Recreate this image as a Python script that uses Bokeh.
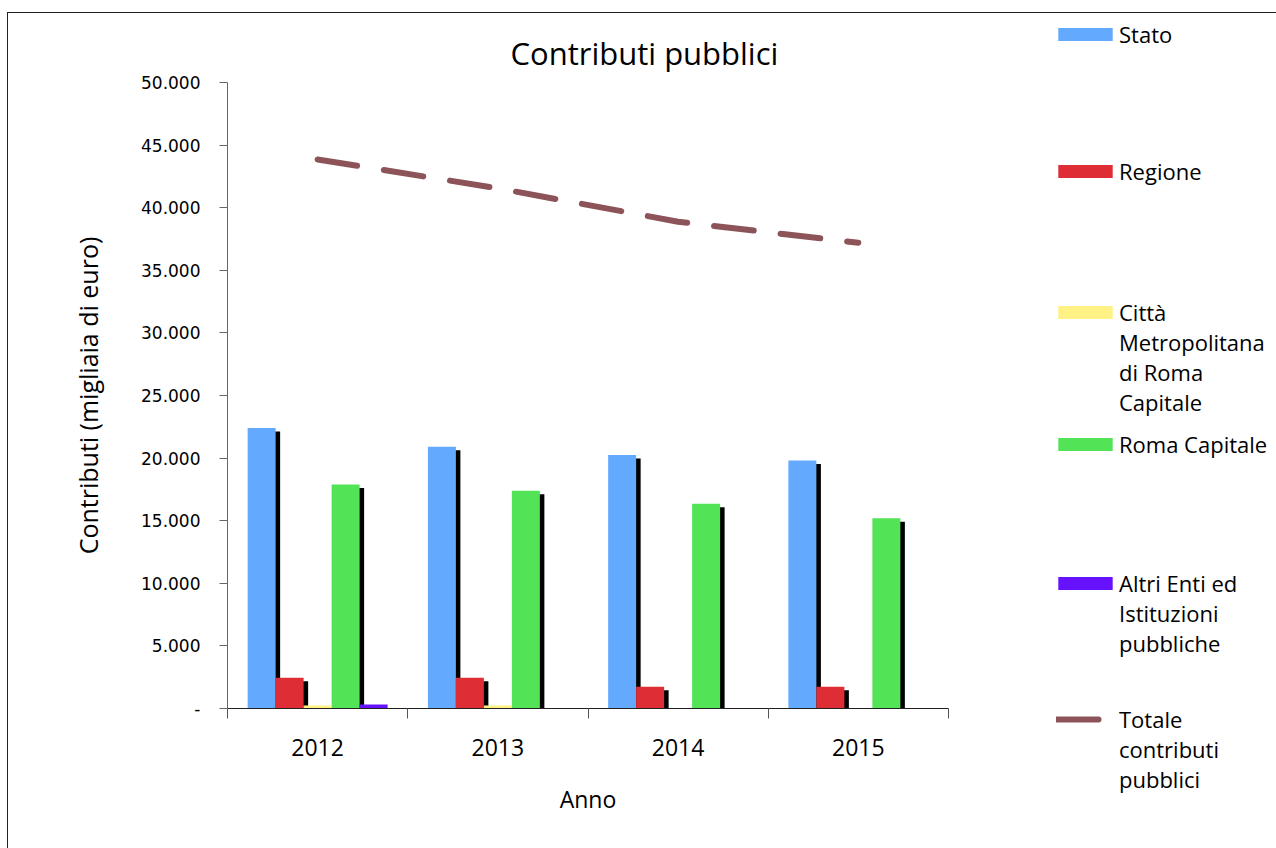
from bokeh.plotting import figure
from bokeh.models import (ColumnDataSource, Range1d, FixedTicker, Legend, LegendItem, Spacer)
from bokeh.transform import dodge
from bokeh.layouts import column, row
from bokeh.embed import file_html
from bokeh.resources import INLINE

# ---- data (migliaia di euro) ----
years = ["2012", "2013", "2014", "2015"]
stato = [22400, 20900, 20250, 19800]
regione = [2450, 2450, 1730, 1730]
citta_metro = [240, 240, 0, 0]
roma_capitale = [17900, 17400, 16350, 15200]
altri_enti = [320, 0, 0, 0]
totale = [43850, 41550, 38880, 37200]

series_labels = ["Stato", "Regione", "Città\nMetropolitana\ndi Roma\nCapitale",
                 "Roma Capitale", "Altri Enti ed\nIstituzioni\npubbliche"]
total_label = "Totale\ncontributi\npubblici"
y_ticks = [0, 5000, 10000, 15000, 20000, 25000, 30000, 35000, 40000, 45000, 50000]
y_tick_labels = ["-", "5.000", "10.000", "15.000", "20.000", "25.000", "30.000",
                 "35.000", "40.000", "45.000", "50.000"]

colors = ["#63AAFF", "#DE2D34", "#FFF184", "#52E356", "#6612FF"]
line_color = "#8C5458"

series = [stato, regione, citta_metro, roma_capitale, altri_enti]
centers = [i + 0.5 for i in range(len(years))]

data = {"x": centers, "totale": totale}
for k, s in enumerate(series):
    data[f"s{k}"] = s
    data[f"sh{k}"] = [max(v - 280, 0) for v in s]
source = ColumnDataSource(data)

H = 835
p = figure(width=1032, height=H, x_range=Range1d(0, len(years)), y_range=Range1d(0, 50000),
           output_backend="svg", toolbar_location=None,
           min_border_left=219, min_border_right=92, min_border_top=69, min_border_bottom=140)
p.outline_line_color = None
p.xgrid.visible = False
p.ygrid.visible = False

bw = 0.1553
offsets = [(k - 2) * bw for k in range(5)]

# shadows first
for k in range(5):
    p.vbar(x=dodge("x", offsets[k] + 0.025), top=f"sh{k}", bottom=0, width=bw, source=source,
           fill_color="black", line_color=None)
for k in range(5):
    p.vbar(x=dodge("x", offsets[k]), top=f"s{k}", bottom=0, width=bw, source=source,
           fill_color=colors[k], line_color=None)

line_kw = dict(line_color=line_color, line_width=6, line_cap="round")
p.line(x="x", y="totale", source=source, line_dash="40 27", **line_kw)

# title
p.title.text = "Contributi pubblici"
p.title.align = "left"
p.title.offset = 283
p.title.standoff = 17
p.title.text_font = "Open Sans"
p.title.text_font_size = "31px"
p.title.text_font_style = "normal"
p.title.text_color = "black"

# axes
xa = p.xaxis[0]
xa.ticker = FixedTicker(ticks=centers, minor_ticks=list(range(len(years) + 1)))
xa.major_label_overrides = {c: y for c, y in zip(centers, years)}
xa.major_tick_line_color = None
xa.major_tick_out = 0
xa.major_tick_in = 0
xa.minor_tick_out = 10
xa.minor_tick_in = 0
xa.minor_tick_line_color = "#555555"
xa.axis_line_color = "#222222"
xa.major_label_text_font = "Open Sans"
xa.major_label_text_font_size = "23px"
xa.major_label_text_color = "black"
xa.major_label_standoff = 20
xa.axis_label = "Anno"
xa.axis_label_text_font = "Open Sans"
xa.axis_label_text_font_size = "23px"
xa.axis_label_text_font_style = "normal"
xa.axis_label_text_color = "black"
xa.axis_label_standoff = 24

ya = p.yaxis[0]
ya.ticker = FixedTicker(ticks=y_ticks, minor_ticks=[])
ya.major_label_overrides = {t: l for t, l in zip(y_ticks, y_tick_labels)}
ya.major_tick_out = 8
ya.major_tick_in = 0
ya.major_tick_line_color = "#666666"
ya.axis_line_color = "#666666"
ya.major_label_text_font = "DejaVu Sans"
ya.major_label_text_font_size = "17px"
ya.major_label_text_color = "black"
ya.major_label_standoff = 19
ya.axis_label = "Contributi (migliaia di euro)"
ya.axis_label_text_font = "Open Sans"
ya.axis_label_text_font_size = "25px"
ya.axis_label_text_font_style = "normal"
ya.axis_label_text_color = "black"
ya.axis_label_standoff = 33

# ---- legend panel: a separate canvas whose frame is the whole canvas ----
lf = figure(frame_width=236, frame_height=H, x_range=Range1d(0, 1), y_range=Range1d(0, 1),
            output_backend="svg", toolbar_location=None, min_border=0,
            x_axis_location=None, y_axis_location=None)
for fig in (p, lf):
    try:
        fig.frame_align = False
    except Exception:
        pass
lf.title.visible = False
lf.outline_line_color = None
lf.xgrid.visible = False
lf.ygrid.visible = False

# hidden proxies (same data) that only provide the legend swatches
proxies = [lf.vbar(x="x", top=f"s{k}", width=bw, source=source, fill_color=colors[k],
                   line_color=None, visible=False) for k in range(5)]
proxies.append(lf.line(x="x", y="totale", source=source, visible=False,
                       line_dash="42 100", **line_kw))

labels = series_labels + [total_label]
# legend placement (screen px from the bottom-left of the legend canvas)
leg_x = [11, 11, 11, 11, 11, 16]
glyph_w = [68, 68, 68, 68, 68, 63]
leg_y = [799, 662, 431, 389, 190, 54]

for lbl, r, xx, gw, yy in zip(labels, proxies, leg_x, glyph_w, leg_y):
    n = lbl.count("\n")
    # leading empty lines keep the swatch level with the first text line
    item = LegendItem(label="\n" * n + lbl, renderers=[r])
    lg = Legend(items=[item], location=(xx, yy), orientation="vertical",
                border_line_color=None, background_fill_alpha=0, padding=0, margin=0,
                spacing=0, glyph_width=gw, glyph_height=16, label_standoff=0,
                label_height=20, label_text_font="Open Sans", label_text_font_size="22px",
                label_text_line_height=1.45, label_text_color="black",
                inactive_fill_alpha=0)
    lf.add_layout(lg)

inner = row(p, lf, spacing=0)
inner.styles = {"outline": "1.5px solid #222222"}
layout = column(Spacer(height=13, width=1276), row(Spacer(width=8, height=H), inner, spacing=0), spacing=0)
open("out.html", "w").write(file_html(layout, INLINE))
